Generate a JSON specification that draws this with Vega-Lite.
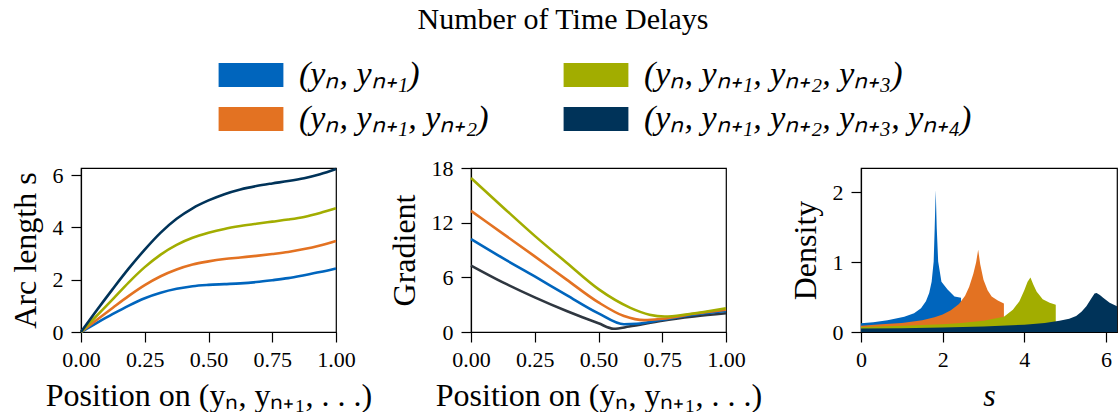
{
  "$schema": "https://vega.github.io/schema/vega-lite/v6.json",
  "padding": {"left": 8, "top": 5, "right": 0, "bottom": 0},
  "title": {"text": "Number of Time Delays", "anchor": "middle", "fontSize": 30, "font": "Liberation Serif", "fontWeight": "normal", "color": "black", "offset": 22},
  "config": {
    "font": "Liberation Serif",
    "view": {"stroke": "black", "strokeWidth": 1.2},
    "axis": {"grid": false, "labelFlush": false, "labelOverlap": false, "domainColor": "black", "tickColor": "black", "labelColor": "black", "titleColor": "black", "labelFont": "Liberation Serif", "titleFont": "Liberation Serif", "labelFontSize": 22, "titleFontSize": 32, "titleFontWeight": "normal", "tickSize": 10, "tickWidth": 1.2, "domainWidth": 1.2},
    "axisY": {"titlePadding": 10, "labelPadding": 8},
    "axisX": {"titlePadding": 10, "labelPadding": 7},
    "legend": {"labelFont": "Liberation Serif", "labelFontSize": 34, "labelFontStyle": "italic", "labelColor": "black", "symbolType": "M-2.7,-1H2.7V1H-2.7Z", "symbolSize": 576, "symbolStrokeWidth": 0, "labelOffset": 31, "padding": 0, "rowPadding": 10, "columnPadding": 74, "labelLimit": 600}
  },
  "datasets": {
    "arc": [
      {"k": "2", "x": 0, "y": 0}, {"k": "2", "x": 0.0625, "y": 0.35}, {"k": "2", "x": 0.125, "y": 0.69}, {"k": "2", "x": 0.1875, "y": 1.01}, {"k": "2", "x": 0.25, "y": 1.29}, {"k": "2", "x": 0.3125, "y": 1.5}, {"k": "2", "x": 0.375, "y": 1.65}, {"k": "2", "x": 0.4375, "y": 1.75}, {"k": "2", "x": 0.5, "y": 1.8}, {"k": "2", "x": 0.5625, "y": 1.83}, {"k": "2", "x": 0.625, "y": 1.86}, {"k": "2", "x": 0.6875, "y": 1.91}, {"k": "2", "x": 0.75, "y": 1.98}, {"k": "2", "x": 0.8125, "y": 2.06}, {"k": "2", "x": 0.875, "y": 2.17}, {"k": "2", "x": 0.9375, "y": 2.29}, {"k": "2", "x": 1, "y": 2.43},
      {"k": "3", "x": 0, "y": 0}, {"k": "3", "x": 0.0625, "y": 0.47}, {"k": "3", "x": 0.125, "y": 0.93}, {"k": "3", "x": 0.1875, "y": 1.38}, {"k": "3", "x": 0.25, "y": 1.79}, {"k": "3", "x": 0.3125, "y": 2.13}, {"k": "3", "x": 0.375, "y": 2.39}, {"k": "3", "x": 0.4375, "y": 2.58}, {"k": "3", "x": 0.5, "y": 2.7}, {"k": "3", "x": 0.5625, "y": 2.79}, {"k": "3", "x": 0.625, "y": 2.85}, {"k": "3", "x": 0.6875, "y": 2.91}, {"k": "3", "x": 0.75, "y": 2.98}, {"k": "3", "x": 0.8125, "y": 3.06}, {"k": "3", "x": 0.875, "y": 3.17}, {"k": "3", "x": 0.9375, "y": 3.31}, {"k": "3", "x": 1, "y": 3.48},
      {"k": "4", "x": 0, "y": 0}, {"k": "4", "x": 0.0625, "y": 0.63}, {"k": "4", "x": 0.125, "y": 1.26}, {"k": "4", "x": 0.1875, "y": 1.9}, {"k": "4", "x": 0.25, "y": 2.48}, {"k": "4", "x": 0.3125, "y": 2.96}, {"k": "4", "x": 0.375, "y": 3.33}, {"k": "4", "x": 0.4375, "y": 3.6}, {"k": "4", "x": 0.5, "y": 3.79}, {"k": "4", "x": 0.5625, "y": 3.94}, {"k": "4", "x": 0.625, "y": 4.05}, {"k": "4", "x": 0.6875, "y": 4.14}, {"k": "4", "x": 0.75, "y": 4.22}, {"k": "4", "x": 0.8125, "y": 4.3}, {"k": "4", "x": 0.875, "y": 4.4}, {"k": "4", "x": 0.9375, "y": 4.55}, {"k": "4", "x": 1, "y": 4.73},
      {"k": "5", "x": 0, "y": 0}, {"k": "5", "x": 0.0625, "y": 0.84}, {"k": "5", "x": 0.125, "y": 1.65}, {"k": "5", "x": 0.1875, "y": 2.43}, {"k": "5", "x": 0.25, "y": 3.15}, {"k": "5", "x": 0.3125, "y": 3.8}, {"k": "5", "x": 0.375, "y": 4.33}, {"k": "5", "x": 0.4375, "y": 4.73}, {"k": "5", "x": 0.5, "y": 5.03}, {"k": "5", "x": 0.5625, "y": 5.27}, {"k": "5", "x": 0.625, "y": 5.45}, {"k": "5", "x": 0.6875, "y": 5.58}, {"k": "5", "x": 0.75, "y": 5.68}, {"k": "5", "x": 0.8125, "y": 5.77}, {"k": "5", "x": 0.875, "y": 5.88}, {"k": "5", "x": 0.9375, "y": 6.03}, {"k": "5", "x": 1, "y": 6.23}
    ],
    "grad": [
      {"k": "5", "x": 0, "y": 7.3}, {"k": "5", "x": 0.125, "y": 5.45}, {"k": "5", "x": 0.25, "y": 3.8}, {"k": "5", "x": 0.375, "y": 2.3}, {"k": "5", "x": 0.5, "y": 0.95}, {"k": "5", "x": 0.56, "y": 0.35}, {"k": "5", "x": 0.62, "y": 0.6}, {"k": "5", "x": 0.75, "y": 1.25}, {"k": "5", "x": 0.875, "y": 1.7}, {"k": "5", "x": 1, "y": 2.05},
      {"k": "2", "x": 0, "y": 10.2}, {"k": "2", "x": 0.125, "y": 8.1}, {"k": "2", "x": 0.25, "y": 6.1}, {"k": "2", "x": 0.375, "y": 4.05}, {"k": "2", "x": 0.5, "y": 2.05}, {"k": "2", "x": 0.6, "y": 0.85}, {"k": "2", "x": 0.65, "y": 0.9}, {"k": "2", "x": 0.75, "y": 1.35}, {"k": "2", "x": 0.875, "y": 1.9}, {"k": "2", "x": 1, "y": 2.3},
      {"k": "3", "x": 0, "y": 13.3}, {"k": "3", "x": 0.125, "y": 10.8}, {"k": "3", "x": 0.25, "y": 8.3}, {"k": "3", "x": 0.375, "y": 5.75}, {"k": "3", "x": 0.5, "y": 3.25}, {"k": "3", "x": 0.6, "y": 1.75}, {"k": "3", "x": 0.68, "y": 1.3}, {"k": "3", "x": 0.75, "y": 1.45}, {"k": "3", "x": 0.875, "y": 2.0}, {"k": "3", "x": 1, "y": 2.45},
      {"k": "4", "x": 0, "y": 16.9}, {"k": "4", "x": 0.125, "y": 13.7}, {"k": "4", "x": 0.25, "y": 10.55}, {"k": "4", "x": 0.375, "y": 7.6}, {"k": "4", "x": 0.5, "y": 4.7}, {"k": "4", "x": 0.625, "y": 2.65}, {"k": "4", "x": 0.7, "y": 1.9}, {"k": "4", "x": 0.76, "y": 1.7}, {"k": "4", "x": 0.85, "y": 1.95}, {"k": "4", "x": 1, "y": 2.6}
    ],
    "dens": [
      {"k": "2", "x": 0, "y": 0.124}, {"k": "2", "x": 0.3, "y": 0.14}, {"k": "2", "x": 0.65, "y": 0.17}, {"k": "2", "x": 1.06, "y": 0.22}, {"k": "2", "x": 1.3, "y": 0.27}, {"k": "2", "x": 1.47, "y": 0.34}, {"k": "2", "x": 1.59, "y": 0.44}, {"k": "2", "x": 1.67, "y": 0.56}, {"k": "2", "x": 1.73, "y": 0.72}, {"k": "2", "x": 1.78, "y": 1.01}, {"k": "2", "x": 1.805, "y": 1.49}, {"k": "2", "x": 1.83, "y": 2.03}, {"k": "2", "x": 1.855, "y": 1.49}, {"k": "2", "x": 1.89, "y": 1.01}, {"k": "2", "x": 1.97, "y": 0.72}, {"k": "2", "x": 2.12, "y": 0.61}, {"k": "2", "x": 2.29, "y": 0.51}, {"k": "2", "x": 2.45, "y": 0.49},
      {"k": "3", "x": 0, "y": 0.09}, {"k": "3", "x": 0.5, "y": 0.11}, {"k": "3", "x": 1.0, "y": 0.13}, {"k": "3", "x": 1.5, "y": 0.17}, {"k": "3", "x": 1.8, "y": 0.21}, {"k": "3", "x": 2.0, "y": 0.25}, {"k": "3", "x": 2.2, "y": 0.31}, {"k": "3", "x": 2.4, "y": 0.4}, {"k": "3", "x": 2.55, "y": 0.52}, {"k": "3", "x": 2.65, "y": 0.65}, {"k": "3", "x": 2.75, "y": 0.83}, {"k": "3", "x": 2.82, "y": 1.0}, {"k": "3", "x": 2.87, "y": 1.18}, {"k": "3", "x": 2.92, "y": 0.97}, {"k": "3", "x": 3.0, "y": 0.75}, {"k": "3", "x": 3.1, "y": 0.6}, {"k": "3", "x": 3.2, "y": 0.51}, {"k": "3", "x": 3.35, "y": 0.45}, {"k": "3", "x": 3.5, "y": 0.41},
      {"k": "4", "x": 0, "y": 0.07}, {"k": "4", "x": 1, "y": 0.09}, {"k": "4", "x": 2, "y": 0.11}, {"k": "4", "x": 2.45, "y": 0.13}, {"k": "4", "x": 3, "y": 0.16}, {"k": "4", "x": 3.5, "y": 0.22}, {"k": "4", "x": 3.72, "y": 0.32}, {"k": "4", "x": 3.88, "y": 0.44}, {"k": "4", "x": 4.0, "y": 0.6}, {"k": "4", "x": 4.08, "y": 0.72}, {"k": "4", "x": 4.15, "y": 0.78}, {"k": "4", "x": 4.22, "y": 0.68}, {"k": "4", "x": 4.3, "y": 0.58}, {"k": "4", "x": 4.45, "y": 0.47}, {"k": "4", "x": 4.62, "y": 0.42}, {"k": "4", "x": 4.77, "y": 0.39},
      {"k": "5", "x": 0, "y": 0.05}, {"k": "5", "x": 1, "y": 0.055}, {"k": "5", "x": 2, "y": 0.065}, {"k": "5", "x": 3, "y": 0.08}, {"k": "5", "x": 4, "y": 0.105}, {"k": "5", "x": 4.5, "y": 0.13}, {"k": "5", "x": 4.86, "y": 0.16}, {"k": "5", "x": 5.1, "y": 0.19}, {"k": "5", "x": 5.27, "y": 0.23}, {"k": "5", "x": 5.4, "y": 0.29}, {"k": "5", "x": 5.52, "y": 0.37}, {"k": "5", "x": 5.64, "y": 0.48}, {"k": "5", "x": 5.72, "y": 0.55}, {"k": "5", "x": 5.77, "y": 0.56}, {"k": "5", "x": 5.85, "y": 0.53}, {"k": "5", "x": 5.93, "y": 0.49}, {"k": "5", "x": 6.09, "y": 0.42}, {"k": "5", "x": 6.27, "y": 0.37}
    ]
  },
  "bounds": "flush",
  "spacing": 135,
  "resolve": {"scale": {"color": "independent"}, "legend": {"color": "independent"}},
  "hconcat": [
    {
      "width": 255, "height": 164,
      "data": {"name": "arc"},
      "mark": {"type": "line", "strokeWidth": 2.6, "interpolate": "monotone"},
      "encoding": {
        "x": {"field": "x", "type": "quantitative", "scale": {"domain": [0, 1], "nice": false}, "axis": {"values": [0, 0.25, 0.5, 0.75, 1], "format": ".2f", "title": "Position on (yₙ, yₙ₊₁, . . .)"}},
        "y": {"field": "y", "type": "quantitative", "scale": {"domain": [0, 6.27], "nice": false}, "axis": {"values": [0, 2, 4, 6], "title": "Arc length s"}},
        "color": {"field": "k", "type": "nominal", "scale": {"domain": ["2", "3", "4", "5"], "range": ["#0065BD", "#E37222", "#A2AD00", "#003359"]}, "legend": null}
      }
    },
    {
      "width": 255, "height": 164,
      "data": {"name": "grad"},
      "mark": {"type": "line", "strokeWidth": 2.6, "interpolate": "monotone"},
      "encoding": {
        "x": {"field": "x", "type": "quantitative", "scale": {"domain": [0, 1], "nice": false}, "axis": {"values": [0, 0.25, 0.5, 0.75, 1], "format": ".2f", "title": "Position on (yₙ, yₙ₊₁, . . .)"}},
        "y": {"field": "y", "type": "quantitative", "scale": {"domain": [0, 18], "nice": false}, "axis": {"values": [0, 6, 12, 18], "title": "Gradient"}},
        "color": {"field": "k", "type": "nominal", "scale": {"domain": ["2", "3", "4", "5"], "range": ["#0065BD", "#E37222", "#A2AD00", "#2F3740"]}, "legend": null}
      }
    },
    {
      "width": 256, "height": 164,
      "data": {"name": "dens"},
      "mark": {"type": "area", "opacity": 1, "clip": true, "interpolate": "linear"},
      "encoding": {
        "x": {"field": "x", "type": "quantitative", "scale": {"domain": [0, 6.27], "nice": false}, "axis": {"values": [0, 2, 4, 6], "title": "s", "titleFontStyle": "italic"}},
        "y": {"field": "y", "type": "quantitative", "stack": null, "scale": {"domain": [0, 2.35], "nice": false}, "axis": {"values": [0, 1, 2], "title": "Density"}},
        "color": {"field": "k", "type": "nominal", "scale": {"domain": ["2", "4", "3", "5"], "range": ["#0065BD", "#A2AD00", "#E37222", "#003359"]},
          "legend": {"orient": "none", "legendX": -627, "legendY": -110, "columns": 2, "direction": "horizontal", "title": null,
            "labelExpr": "datum.value == '2' ? '(yₙ, yₙ₊₁)' : datum.value == '3' ? '(yₙ, yₙ₊₁, yₙ₊₂)' : datum.value == '4' ? '(yₙ, yₙ₊₁, yₙ₊₂, yₙ₊₃)' : '(yₙ, yₙ₊₁, yₙ₊₂, yₙ₊₃, yₙ₊₄)'"}}
      }
    }
  ]
}
